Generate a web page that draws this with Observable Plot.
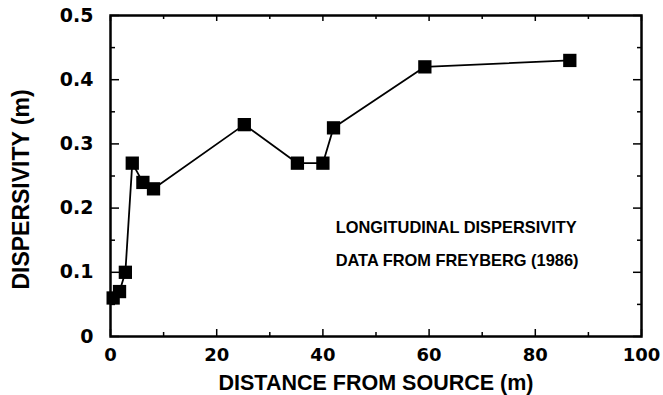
<!DOCTYPE html>
<html>
<head>
<meta charset="utf-8">
<script src="https://cdn.jsdelivr.net/npm/d3@7"></script>
<script src="https://cdn.jsdelivr.net/npm/@observablehq/plot@0.6"></script>
<style>
  html, body { margin: 0; padding: 0; background: #fff; }
</style>
</head>
<body>
<div id="chart"></div>
<script>
const distance = [0.5, 1.7, 2.8, 4.1, 6.1, 8.1, 25.2, 35.2, 40.0, 42.0, 59.2, 86.5];
const dispersivity = [0.06, 0.07, 0.10, 0.27, 0.24, 0.23, 0.33, 0.27, 0.27, 0.325, 0.42, 0.43];

const xMajorTicks = [0, 20, 40, 60, 80, 100];
const xMinorTicks = [10, 30, 50, 70, 90];
const yMajorTicks = [0, 0.1, 0.2, 0.3, 0.4, 0.5];
const yMinorTicks = [0.05, 0.15, 0.25, 0.35, 0.45];

const xTitle = "DISTANCE FROM SOURCE (m)";
const yTitle = "DISPERSIVITY (m)";
const noteLines = ["LONGITUDINAL DISPERSIVITY", "DATA FROM FREYBERG (1986)"];
const noteX = [42.4, 42.4];
const noteY = [0.169, 0.118];

const data = distance.map((d, i) => ({x: d, y: dispersivity[i]}));
const notes = noteLines.map((t, i) => ({t, x: noteX[i], y: noteY[i]}));

const fmtY = d => d === 0 ? "0" : d.toFixed(1);
const tickFont = "'DejaVu Sans', sans-serif";
const titleFont = "'Liberation Sans', Arial, sans-serif";

const chart = Plot.plot({
  width: 663,
  height: 395,
  marginLeft: 110,
  marginRight: 22,
  marginTop: 15,
  marginBottom: 59,
  style: {fontFamily: titleFont, fontWeight: "bold", fontSize: "18px", color: "#000", background: "#fff"},
  x: {domain: [0, 100]},
  y: {domain: [0, 0.5]},
  marks: [
    // left axis
    Plot.axisY(yMajorTicks, {anchor: "left", tickSize: -9, tickPadding: 26, tickFormat: fmtY, label: null, strokeWidth: 1.5, fontFamily: tickFont, fontWeight: "bold", fontSize: 19}),
    Plot.axisY(yMinorTicks, {anchor: "left", tickSize: -5, text: null, label: null, strokeWidth: 1.5}),
    // right axis
    Plot.axisY(yMajorTicks, {anchor: "right", tickSize: -9, text: null, label: null, strokeWidth: 1.5}),
    Plot.axisY(yMinorTicks, {anchor: "right", tickSize: -5, text: null, label: null, strokeWidth: 1.5}),
    // bottom axis
    Plot.axisX(xMajorTicks, {anchor: "bottom", tickSize: -7, tickPadding: 19, tickFormat: d => String(d), label: null, strokeWidth: 1.5, fontFamily: tickFont, fontWeight: "bold", fontSize: 18}),
    Plot.axisX(xMinorTicks, {anchor: "bottom", tickSize: -4, text: null, label: null, strokeWidth: 1.5}),
    // top axis
    Plot.axisX(xMajorTicks, {anchor: "top", tickSize: -5, text: null, label: null, strokeWidth: 1.5}),
    Plot.axisX(xMinorTicks, {anchor: "top", tickSize: -3, text: null, label: null, strokeWidth: 1.5}),
    Plot.frame({stroke: "#000", strokeWidth: 2.5}),
    Plot.line(data, {x: "x", y: "y", stroke: "#000", strokeWidth: 1.8}),
    Plot.dot(data, {x: "x", y: "y", symbol: "square", r: 7.5, fill: "#000", stroke: "none"}),
    Plot.text(notes, {x: "x", y: "y", text: "t", textAnchor: "start", fontFamily: titleFont, fontSize: 16.4, fontWeight: "bold", fill: "#000"}),
    Plot.text([xTitle], {frameAnchor: "bottom", lineAnchor: "middle", textAnchor: "middle", dy: 46.5, fontFamily: titleFont, fontSize: 21.5, fontWeight: "bold", fill: "#000"}),
    Plot.text([yTitle], {frameAnchor: "left", rotate: -90, textAnchor: "middle", lineAnchor: "middle", dx: -89, dy: 13.5, fontFamily: titleFont, fontSize: 23, fontWeight: "bold", fill: "#000"})
  ]
});

document.getElementById("chart").appendChild(chart);
</script>
</body>
</html>
